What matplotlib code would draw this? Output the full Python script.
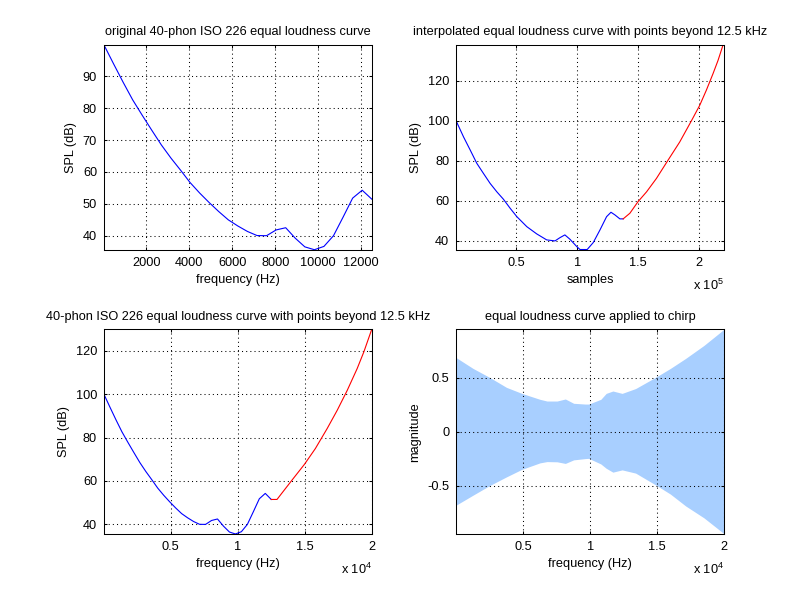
import numpy as np
import matplotlib
matplotlib.use("Agg")
import matplotlib.pyplot as plt

plt.rcParams['font.family'] = ['Liberation Sans', 'DejaVu Sans']
plt.rcParams['font.size'] = 9.2
plt.rcParams['axes.titlesize'] = 9.2
plt.rcParams['mathtext.fontset'] = 'custom'
plt.rcParams['mathtext.rm'] = 'Liberation Sans'
plt.rcParams['mathtext.it'] = 'Liberation Sans'

# original ISO 226 40-phon curve (plotted on evenly spaced x positions)
iso_freq = [20, 466, 911, 1357, 1803, 2249, 2694, 3140, 3586, 4031, 4477, 4923, 5369, 5814,
            6260, 6706, 7151, 7597, 8043, 8489, 8934, 9380, 9826, 10271, 10717, 11163,
            11609, 12054, 12500]
iso_spl = [99.85, 93.94, 88.17, 82.63, 77.78, 73.08, 68.48, 64.37, 60.59, 56.70, 53.41,
           50.40, 47.58, 44.98, 43.05, 41.34, 40.06, 40.01, 41.82, 42.51, 39.23, 36.51,
           35.61, 36.65, 40.01, 45.83, 51.80, 54.28, 51.49]

# interpolated curve vs samples
samp_blue = [900, 6900, 12400, 17800, 23200, 28700, 34200, 39600, 45100, 50600, 58800,
             66900, 75100, 81900, 85900, 90000, 94200, 99700, 102400, 108300, 113300,
             118800, 124200, 127800, 131000, 135100, 137800]
spl_blue = [99.8, 91.9, 85.3, 78.7, 73.7, 68.7, 64.5, 60.8, 56.3, 52.1, 47.1, 43.5, 40.5,
            40.0, 41.6, 43.0, 40.8, 37.2, 35.7, 35.7, 39.2, 45.5, 52.1, 54.3, 53.0, 51.0, 51.0]
samp_red = [137800, 143300, 150000, 157000, 165100, 174600, 184200, 194000, 200600,
            206000, 211500, 215600, 219700]
spl_red = [51.0, 53.8, 59.6, 64.5, 71.2, 80.3, 89.4, 100.2, 107.7, 115.2, 123.5, 130.1, 137.8]

# points beyond 12.5 kHz
ext_freq = [12500, 12930, 13180, 14050, 14970, 15790, 16670, 17420, 18170, 18910, 19410, 20000]
ext_spl = [51.49, 51.5, 53.5, 60.4, 67.6, 74.9, 84.1, 92.5, 101.7, 111.7, 119.4, 129.8]

# chirp envelope (upper / lower)
chirp_f = [20, 1250, 2500, 3750, 4900, 6250, 6780, 7530, 8150, 8770, 9640, 9900, 10800,
           11200, 11700, 12390, 13400, 14970, 16000, 17140, 18500, 20000]
chirp_up = [0.685, 0.587, 0.503, 0.411, 0.355, 0.300, 0.284, 0.284, 0.303, 0.263, 0.256,
            0.256, 0.300, 0.355, 0.377, 0.355, 0.400, 0.510, 0.587, 0.680, 0.800, 0.950]
chirp_lo = [-0.680, -0.590, -0.500, -0.420, -0.350, -0.290, -0.278, -0.280, -0.295, -0.262,
            -0.250, -0.248, -0.300, -0.340, -0.376, -0.355, -0.385, -0.500, -0.580, -0.690,
            -0.800, -0.947]

fig = plt.figure(figsize=(8, 6), dpi=100)
fig.patch.set_facecolor('white')


def style(ax):
    ax.grid(True, color='black', linestyle=(0, (1, 3)), linewidth=0.75)
    ax.tick_params(direction='in', length=2.5, width=0.75, top=True, right=True, pad=5)
    for s in ax.spines.values():
        s.set_linewidth(0.75)


def exponent(ax, p):
    ax.annotate('x 10$^{%d}$' % p, xy=(1, 0), xycoords='axes fraction',
                xytext=(0, -28), textcoords='offset pixels', ha='right', va='top')


# top left
ax1 = fig.add_axes([0.13, 0.5838, 0.3347, 0.3412])
ax1.plot(iso_freq, iso_spl, color='blue', lw=0.8)
ax1.set_xlim(20, 12500)
ax1.set_ylim(min(iso_spl), max(iso_spl))
ax1.set_xticks([2000, 4000, 6000, 8000, 10000, 12000])
ax1.set_yticks([40, 50, 60, 70, 80, 90])
ax1.set_title('original 40-phon ISO 226 equal loudness curve', pad=7)
ax1.set_xlabel('frequency (Hz)')
ax1.set_ylabel('SPL (dB)')
style(ax1)

# top right
ax2 = fig.add_axes([0.5703, 0.5838, 0.3347, 0.3412])
ax2.plot(samp_blue, spl_blue, color='blue', lw=0.8)
ax2.plot(samp_red, spl_red, color='red', lw=0.8)
ax2.set_xlim(900, 220500)
ax2.set_ylim(35.6, 137.8)
ax2.set_xticks([50000, 100000, 150000, 200000])
ax2.set_xticklabels(['0.5', '1', '1.5', '2'])
ax2.set_yticks([40, 60, 80, 100, 120])
ax2.set_title('interpolated equal loudness curve with points beyond 12.5 kHz', pad=7)
ax2.set_xlabel('samples')
ax2.set_ylabel('SPL (dB)')
style(ax2)
exponent(ax2, 5)

# bottom left
ax3 = fig.add_axes([0.13, 0.11, 0.3347, 0.3412])
ax3.plot(iso_freq, iso_spl, color='blue', lw=0.8)
ax3.plot(ext_freq, ext_spl, color='red', lw=0.8)
ax3.set_xlim(20, 20000)
ax3.set_ylim(35.6, 129.8)
ax3.set_xticks([5000, 10000, 15000, 20000])
ax3.set_xticklabels(['0.5', '1', '1.5', '2'])
ax3.set_yticks([40, 60, 80, 100, 120])
ax3.set_title('40-phon ISO 226 equal loudness curve with points beyond 12.5 kHz', pad=7)
ax3.set_xlabel('frequency (Hz)')
ax3.set_ylabel('SPL (dB)')
style(ax3)
exponent(ax3, 4)

# bottom right
ax4 = fig.add_axes([0.5703, 0.11, 0.3347, 0.3412])
ax4.fill_between(chirp_f, chirp_lo, chirp_up, color='#A8CFFF', lw=0)
ax4.set_xlim(0, 20000)
ax4.set_ylim(-0.95, 0.95)
ax4.set_xticks([5000, 10000, 15000, 20000])
ax4.set_xticklabels(['0.5', '1', '1.5', '2'])
ax4.set_yticks([-0.5, 0, 0.5])
ax4.set_yticklabels(['-0.5', '0', '0.5'])
ax4.set_title('equal loudness curve applied to chirp', pad=7)
ax4.set_xlabel('frequency (Hz)')
ax4.set_ylabel('magnitude')
style(ax4)
ax4.set_axisbelow(False)
exponent(ax4, 4)

fig.savefig('out.png', dpi=100)
